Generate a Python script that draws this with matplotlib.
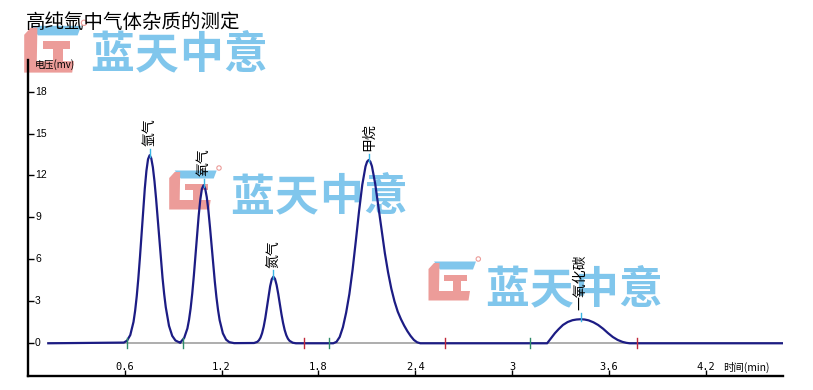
import matplotlib
matplotlib.use("Agg")
import matplotlib.pyplot as plt
from matplotlib.patches import Polygon, Circle
from matplotlib.transforms import Affine2D

plt.rcParams['font.family'] = ['Noto Sans CJK SC', 'DejaVu Sans']

# 色谱图数据 (时间 min, 电压 mv)
trace_t = [0.126, 0.594, 0.614, 0.634, 0.654, 0.664, 0.674, 0.684, 0.694, 0.704, 0.714,
           0.724, 0.734, 0.744, 0.754, 0.764, 0.774, 0.784, 0.794, 0.804, 0.814, 0.824,
           0.834, 0.844, 0.854, 0.874, 0.894, 0.914, 0.944,
           0.948, 0.968, 0.988, 0.998, 1.008, 1.018, 1.028, 1.038, 1.048, 1.058, 1.068,
           1.078, 1.088, 1.098, 1.108, 1.118, 1.128, 1.138, 1.148, 1.158, 1.168, 1.178,
           1.188, 1.208, 1.228, 1.248, 1.278,
           1.401, 1.421, 1.431, 1.441, 1.451, 1.461, 1.471, 1.481, 1.491, 1.501, 1.511,
           1.521, 1.531, 1.541, 1.551, 1.561, 1.571, 1.581, 1.591, 1.601, 1.611, 1.621,
           1.641, 1.661,
           1.892, 1.912, 1.932, 1.952, 1.972, 1.992, 2.012, 2.032, 2.052, 2.072, 2.092,
           2.102, 2.112, 2.122, 2.132, 2.152, 2.172, 2.192, 2.212, 2.232, 2.252, 2.272,
           2.292, 2.312, 2.332, 2.352, 2.372, 2.392, 2.412, 2.432,
           3.218, 3.245, 3.266, 3.290, 3.316, 3.345, 3.375, 3.400, 3.425, 3.450, 3.475,
           3.505, 3.534, 3.565, 3.596, 3.625, 3.655, 3.685, 3.710, 3.730, 4.68]
trace_v = [0.0, 0.05, 0.19, 0.59, 1.53, 2.32, 3.36, 4.65, 6.16, 7.82, 9.51,
           11.07, 12.33, 13.16, 13.45, 13.23, 12.59, 11.59, 10.33, 8.90, 7.42, 5.98,
           4.67, 3.53, 2.58, 1.25, 0.53, 0.20, 0.03,
           0.11, 0.38, 1.06, 1.67, 2.49, 3.55, 4.83, 6.26, 7.74, 9.13, 10.28,
           11.04, 11.30, 11.08, 10.46, 9.51, 8.31, 6.99, 5.66, 4.41, 3.30, 2.38,
           1.65, 0.71, 0.26, 0.08, 0.01,
           0.02, 0.10, 0.21, 0.40, 0.72, 1.19, 1.81, 2.57, 3.37, 4.08, 4.58,
           4.76, 4.61, 4.17, 3.54, 2.81, 2.09, 1.46, 0.95, 0.58, 0.33, 0.18,
           0.04, 0.0,
           0.0, 0.10, 0.45, 1.15, 2.19, 3.52, 5.26, 7.31, 9.44, 11.33, 12.64,
           12.99, 13.11, 12.99, 12.66, 11.42, 9.75, 8.05, 6.45, 5.07, 3.91, 2.99,
           2.26, 1.72, 1.26, 0.86, 0.52, 0.24, 0.07, 0.0,
           0.0, 0.40, 0.72, 1.02, 1.31, 1.52, 1.65, 1.70, 1.72, 1.70, 1.64,
           1.50, 1.31, 1.04, 0.72, 0.45, 0.24, 0.10, 0.03, 0.0, 0.0]

peak_names = ['氩气', '氧气', '氮气', '甲烷', '一氧化碳']
peak_t = [0.754, 1.088, 1.521, 2.112, 3.425]
peak_h = [13.45, 11.30, 4.76, 13.11, 1.72]

start_marks = [0.615, 0.962, 1.866, 3.111]
end_marks = [1.711, 2.585, 3.773]

x_ticks = [0.6, 1.2, 1.8, 2.4, 3, 3.6, 4.2]
x_labels = ['0.6', '1.2', '1.8', '2.4', '3', '3.6', '4.2']
y_ticks = [0, 3, 6, 9, 12, 15, 18]

W, H = 813, 390
fig = plt.figure(figsize=(W / 100, H / 100), dpi=100)
ax = fig.add_axes([28 / W, 1 - 376 / H, (783 - 28) / W, (376 - 60) / H])
ax.set_facecolor('none')
ax.set_xlim(0, 4.68)
ax.set_ylim(-2.34, 20.26)

# 像素坐标 (左上为原点), 用于水印
pix = Affine2D().scale(1 / W, -1 / H).translate(0, 1) + fig.transFigure

blue_wm = '#80c6ec'
pink_wm = '#ec9c99'


def logo(x0, y0, s, tx, ty):
    def P(pts, c):
        pts = [(x0 + px * s, y0 + py * s) for px, py in pts]
        ax.add_patch(Polygon(pts, closed=True, facecolor=c, edgecolor='none',
                             transform=pix, clip_on=False, zorder=0.5))
    P([(14, 6.5), (56, 6.5), (53, 14.5), (20, 14.5)], blue_wm)
    P([(8.5, 14), (14, 8), (19.5, 8), (19, 36), (50, 36), (48.5, 45.5), (8.5, 45.5)], pink_wm)
    P([(24, 19.5), (47, 19.5), (47, 25.5), (40.5, 25.5), (40.5, 37), (32.5, 37), (32.5, 25.5), (24, 25.5)], pink_wm)
    ax.add_patch(Circle((x0 + 58.3 * s, y0 + 4 * s), 2.2 * s, facecolor='none',
                        edgecolor=pink_wm, lw=0.8, transform=pix, clip_on=False, zorder=0.5))
    for i, ch in enumerate('蓝天中意'):
        ax.text(tx + 20 + i * 44.5, ty, ch, transform=pix, fontsize=31.5, fontweight='bold',
                color=blue_wm, ha='center', va='center', clip_on=False, zorder=0.5)


logo(14, 18, 1.2, 92, 55)
logo(160.7, 164, 1.0, 232, 197.5)
logo(420, 255, 1.0, 487, 290)

# 基线与色谱曲线
ax.plot([0.126, 4.68], [0, 0], color='#a0a0a0', lw=1.2, zorder=2)
ax.plot(trace_t, trace_v, color='#1c1c84', lw=1.6, zorder=3)

for t in start_marks:
    ax.plot([t, t], [-0.36, 0.36], color='#2e8b6a', lw=1, zorder=4)
for t in end_marks:
    ax.plot([t, t], [-0.36, 0.36], color='#c0283a', lw=1, zorder=4)

for name, t, h in zip(peak_names, peak_t, peak_h):
    ax.plot([t, t], [h - 0.15, h + 0.45], color='#39b4e4', lw=1, zorder=4)
    ax.annotate(name, (t, h), xytext=(0, 6.5), textcoords='offset points',
                rotation=90, ha='center', va='bottom', fontsize=10, color='black')

# 坐标轴
for s in ['top', 'right']:
    ax.spines[s].set_visible(False)
for s in ['left', 'bottom']:
    ax.spines[s].set_linewidth(1.7)
ax.set_xticks(x_ticks)
ax.set_yticks(y_ticks)
ax.tick_params(axis='both', direction='in', length=4, width=1,
               labelbottom=False, labelleft=False)

for t, lab in zip(x_ticks, x_labels):
    ax.annotate(lab, (t, 0), xycoords=('data', 'axes fraction'), xytext=(0, 9),
                textcoords='offset pixels', ha='center', va='center',
                fontsize=7.5, family='DejaVu Sans Mono')

for v in y_ticks:
    ax.annotate(str(v), (0, v), xycoords=('axes fraction', 'data'), xytext=(7, 0),
                textcoords='offset pixels', ha='left', va='center',
                fontsize=7.5, family=['Liberation Sans', 'DejaVu Sans'])

fig.text(723 / W, 1 - 367 / H, '时间(min)', fontsize=7.5, ha='left', va='center')
fig.text(35 / W, 1 - 65 / H, '电压(mv)', fontsize=7, ha='left', va='center')
fig.text(26 / W, 1 - 23 / H, '高纯氩中气体杂质的测定', fontsize=14, ha='left', va='center')

fig.savefig('out.png', dpi=100)
